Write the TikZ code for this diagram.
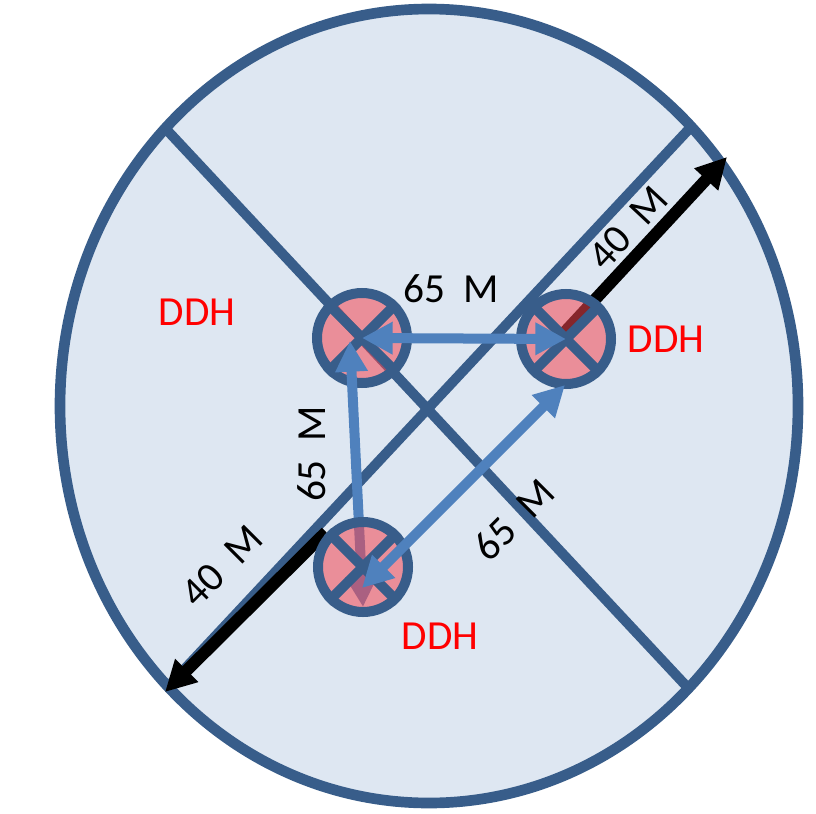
\documentclass[tikz,border=0pt]{standalone}
\usepackage{fontspec}
\setmainfont{Carlito}
\usetikzlibrary{arrows.meta}
\definecolor{bgfill}{RGB}{222,231,242}
\definecolor{dkblue}{RGB}{56,93,138}
\definecolor{arrblue}{RGB}{79,129,189}
\definecolor{pinkfill}{RGB}{245,70,80}
\begin{document}
\begin{tikzpicture}[x=0.75pt,y=-0.75pt,
  edge/.style={draw=dkblue,line width=7.5pt},
  blk/.style={draw=black,line width=9pt,-{Triangle[length=23pt,width=23pt]}},
  blu/.style={draw=arrblue,line width=7.5pt,{Triangle[length=23pt,width=23pt]}-{Triangle[length=23pt,width=23pt]}},
  ring/.style={circle,draw=dkblue,line width=7.5pt,fill=pinkfill,fill opacity=0.55,minimum size=67.5pt,inner sep=0pt},
  lbl/.style={font=\fontsize{31}{31}\selectfont,inner sep=0pt},
  ddh/.style={lbl,text=red}]
\useasboundingbox (0,0) rectangle (816,813);
% outer ellipse
\draw[fill=bgfill,draw=dkblue,line width=8pt] (429,406) ellipse [x radius=276.75pt, y radius=297.75pt];
% diagonal dividers
\coordinate (l1a) at (165,128);
\coordinate (l1b) at (690,690);
\coordinate (l2a) at (165,690);
\coordinate (l2b) at (690,128);
\draw[edge] (l1a) -- (l1b);
\draw[edge] (l2a) -- (l2b);
% black dimension arrows
\coordinate (b2s) at (564,333);
\coordinate (b2t) at (727,157);
\coordinate (b3s) at (326,532);
\coordinate (b3t) at (165,692);
\draw[blk] (b2s) -- (b2t);
\draw[blk] (b3s) -- (b3t);
% circles 1 and 2
\node[ring] (c1) at (362,338) {};
\draw[edge] (c1.north west) -- (c1.south east) (c1.north east) -- (c1.south west);
\node[ring] (c2) at (566,339) {};
\draw[edge] (c2.north west) -- (c2.south east) (c2.north east) -- (c2.south west);
% vertical arrow (under circle 3)
\coordinate (v1) at (350,341);
\coordinate (v3) at (363,607);
\draw[blu] (v1) -- (v3);
% circle 3
\node[ring] (c3) at (363,567) {};
\draw[edge] (c3.north west) -- (c3.south east) (c3.north east) -- (c3.south west);
% horizontal and diagonal arrows
\draw[blu] (c1.center) -- (c2.center);
\coordinate (d3) at (362,588);
\coordinate (d2) at (565,385);
\draw[blu] (d3) -- (d2);
% labels
\node[lbl] (t1) at (451,289) {65\ \ M};
\node[lbl,rotate=90] (t2) at (312,454) {65\ \ M};
\node[lbl,rotate=45] (t3) at (514,520) {65\ \ M};
\node[lbl,rotate=47] (t4) at (628,228) {40\ \ M};
\node[lbl,rotate=45] (t5) at (222,566) {40\ \ M};
\node[ddh] (h1) at (197,312) {DDH};
\node[ddh] (h2) at (666,339) {DDH};
\node[ddh] (h3) at (440,636) {DDH};
\end{tikzpicture}
\end{document}
